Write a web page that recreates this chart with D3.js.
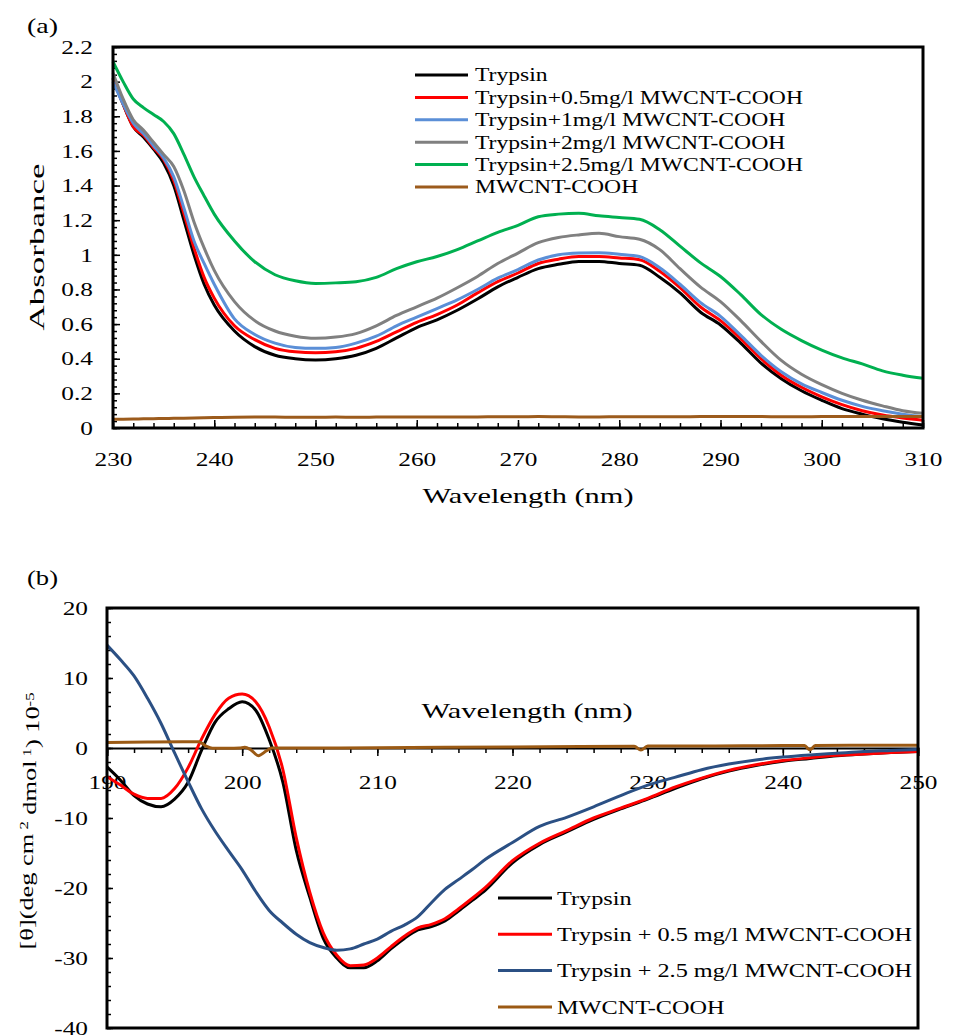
<!DOCTYPE html>
<html>
<head>
<meta charset="utf-8">
<script src="https://cdn.jsdelivr.net/npm/d3@7"></script>
<style>
  body { margin: 0; background: #fff; }
  text { font-family: "Liberation Serif", "DejaVu Serif", serif; fill: #000; }
</style>
</head>
<body>
<div id="chart"></div>
<script>
// ---------- panel (a) : UV absorbance ----------
var wlA = [230, 231, 232, 233, 234, 235, 236, 237, 238, 239, 240, 242, 244, 246, 248, 250, 252, 254, 256, 258, 260,
           262, 264, 266, 268, 270, 272, 274, 276, 278, 280, 282, 284, 286, 288, 290, 292, 294, 296, 298, 300,
           302, 304, 306, 308, 310];
var absTrypsin = [2.02, 1.87, 1.74, 1.68, 1.61, 1.53, 1.40, 1.20, 1.00, 0.83, 0.71, 0.56, 0.47, 0.42, 0.40, 0.393, 0.40, 0.42, 0.46, 0.52, 0.58,
                  0.625, 0.68, 0.745, 0.815, 0.87, 0.92, 0.945, 0.962, 0.962, 0.95, 0.94, 0.87, 0.78, 0.67, 0.595, 0.49, 0.375, 0.285, 0.215, 0.16,
                  0.112, 0.08, 0.053, 0.033, 0.017];
var abs05 = [2.02, 1.87, 1.74, 1.69, 1.62, 1.55, 1.43, 1.24, 1.04, 0.87, 0.75, 0.59, 0.51, 0.46, 0.44, 0.435, 0.44, 0.46, 0.50, 0.555, 0.61,
             0.655, 0.71, 0.78, 0.845, 0.895, 0.95, 0.975, 0.99, 0.99, 0.982, 0.972, 0.905, 0.81, 0.70, 0.62, 0.515, 0.40, 0.305, 0.235, 0.18,
             0.135, 0.10, 0.075, 0.058, 0.045];
var abs1 = [2.00, 1.87, 1.76, 1.70, 1.63, 1.56, 1.45, 1.27, 1.08, 0.95, 0.83, 0.63, 0.54, 0.49, 0.465, 0.46, 0.465, 0.49, 0.53, 0.59, 0.64,
            0.69, 0.74, 0.80, 0.865, 0.915, 0.97, 1.0, 1.01, 1.012, 1.003, 0.99, 0.925, 0.83, 0.725, 0.645, 0.535, 0.42, 0.325, 0.255, 0.205,
            0.16, 0.125, 0.10, 0.08, 0.065];
var abs2 = [2.05, 1.90, 1.78, 1.72, 1.65, 1.58, 1.51, 1.37, 1.19, 1.04, 0.91, 0.73, 0.62, 0.56, 0.53, 0.518, 0.525, 0.545, 0.59, 0.65, 0.70,
            0.75, 0.81, 0.875, 0.95, 1.01, 1.07, 1.10, 1.115, 1.124, 1.105, 1.09, 1.03, 0.92, 0.815, 0.73, 0.62, 0.50, 0.39, 0.31, 0.25,
            0.20, 0.16, 0.128, 0.10, 0.085];
var abs25 = [2.115, 2.00, 1.90, 1.85, 1.81, 1.77, 1.70, 1.58, 1.45, 1.34, 1.235, 1.08, 0.96, 0.885, 0.85, 0.835, 0.838, 0.845, 0.87, 0.92, 0.96,
             0.99, 1.03, 1.08, 1.13, 1.17, 1.22, 1.235, 1.24, 1.225, 1.215, 1.205, 1.145, 1.05, 0.955, 0.875, 0.77, 0.655, 0.57, 0.505, 0.45,
             0.405, 0.37, 0.33, 0.305, 0.287];
var absCnt = [0.050, 0.051, 0.052, 0.053, 0.054, 0.055, 0.056, 0.057, 0.058, 0.059, 0.060, 0.062, 0.063, 0.063, 0.062, 0.062, 0.063, 0.062, 0.063, 0.064, 0.064,
              0.064, 0.064, 0.064, 0.065, 0.065, 0.066, 0.065, 0.064, 0.064, 0.065, 0.065, 0.065, 0.065, 0.066, 0.066, 0.066, 0.066, 0.065, 0.065, 0.066,
              0.066, 0.066, 0.066, 0.066, 0.066];
var namesA = ["Trypsin", "Trypsin+0.5mg/l MWCNT-COOH", "Trypsin+1mg/l MWCNT-COOH", "Trypsin+2mg/l MWCNT-COOH",
              "Trypsin+2.5mg/l MWCNT-COOH", "MWCNT-COOH"];
var colorsA = ["#000000", "#ff0000", "#5b8fd7", "#808080", "#00b050", "#9c5b1c"];
var xTicksA = [230, 240, 250, 260, 270, 280, 290, 300, 310];
var yTicksA = [0, 0.2, 0.4, 0.6, 0.8, 1, 1.2, 1.4, 1.6, 1.8, 2, 2.2];

// ---------- panel (b) : CD spectra ----------
var wlB = [190, 191, 192, 193, 194, 195, 196, 197, 198, 199, 200, 201, 202, 203, 204, 205, 206, 207, 208, 209, 210,
           211, 212, 213, 214, 215, 216, 217, 218, 220, 222, 224, 226, 228, 230, 232, 234, 236, 238, 240, 242,
           244, 246, 248, 250];
var cdTrypsin = [-2.7, -4.6, -6.8, -8.0, -8.4, -7.3, -4.9, -0.3, 3.7, 5.6, 6.6, 5.4, 1.2, -4.8, -14.6, -21.3, -27.2, -30.0, -31.4, -31.4, -30.4,
                 -28.7, -27.2, -26.0, -25.5, -24.7, -23.3, -21.8, -20.3, -16.4, -13.8, -12.0, -10.2, -8.7, -7.3, -5.8, -4.4, -3.3, -2.5, -1.9, -1.5,
                 -1.1, -0.85, -0.65, -0.5];
var cd05 = [-4.1, -5.3, -6.6, -7.2, -7.2, -5.8, -2.8, 1.3, 4.8, 7.1, 7.7, 6.6, 3.0, -3.0, -12.8, -20.6, -26.4, -29.6, -31.1, -31.0, -30.0,
            -28.4, -26.9, -25.7, -25.2, -24.4, -23.0, -21.5, -19.9, -16.1, -13.6, -11.8, -10.0, -8.6, -7.2, -5.6, -4.3, -3.2, -2.4, -1.8, -1.4,
            -1.05, -0.85, -0.65, -0.5];
var cd25 = [14.7, 12.6, 10.3, 7.1, 3.5, -0.7, -4.8, -8.7, -11.9, -14.7, -17.4, -20.5, -23.2, -25.0, -26.6, -27.8, -28.5, -28.9, -28.7, -28.0, -27.3,
            -26.2, -25.3, -24.1, -22.1, -20.2, -18.8, -17.4, -15.9, -13.5, -11.2, -9.9, -8.4, -6.8, -5.3, -4.2, -3.1, -2.3, -1.7, -1.3, -1.0,
            -0.75, -0.5, -0.35, -0.2];
var wlCnt = [190, 193, 196, 196.8, 197.3, 197.8, 199, 199.8, 200.2, 200.6, 201.2, 201.8, 202.2, 205, 210, 215, 220, 225,
             229, 229.5, 230, 235, 240, 241.6, 242, 242.4, 245, 250];
var cdCnt = [0.8, 0.85, 0.9, 0.9, 0.3, -0.05, -0.05, 0.0, 0.1, -0.2, -1.1, -0.4, 0.0, 0.0, 0.05, 0.1, 0.15, 0.2,
             0.25, -0.3, 0.3, 0.3, 0.35, 0.35, -0.25, 0.35, 0.4, 0.4];
var namesB = ["Trypsin", "Trypsin + 0.5 mg/l MWCNT-COOH", "Trypsin + 2.5 mg/l MWCNT-COOH", "MWCNT-COOH"];
var colorsB = ["#000000", "#ff0000", "#2b5084", "#9b5a14"];
var xTicksB = [190, 200, 210, 220, 230, 240, 250];
var yTicksB = [-40, -30, -20, -10, 0, 10, 20];

// stretch text horizontally so it spans the same width as in the picture
function widen(sel, f) {
    sel.each(function () {
        var L = this.getComputedTextLength();
        this.setAttribute("textLength", L * f);
        this.setAttribute("lengthAdjust", "spacingAndGlyphs");
    });
}
function fitTo(sel, w) {
    var f = w / sel.node().getComputedTextLength();
    widen(sel, f);
    return f;
}

var svg = d3.select("#chart")
    .append("svg")
    .attr("width", 953)
    .attr("height", 1035);

// ================= panel (a) =================
var xA = d3.scaleLinear().domain([230, 310]).range([113, 923]);
var yA = d3.scaleLinear().domain([0, 2.2]).range([428, 47]);

var tA = svg.append("text").attr("x", 27).attr("y", 33).style("font-size", "21px").text("(a)");
fitTo(tA, 31);

// minor ticks
svg.append("g")
    .attr("transform", "translate(0,428)")
    .call(d3.axisBottom(xA).tickValues(d3.range(230, 311, 2)).tickSize(-5).tickFormat(""))
    .call(g => g.select(".domain").remove());
svg.append("g")
    .attr("transform", "translate(113,0)")
    .call(d3.axisLeft(yA).tickValues(d3.range(0, 2.2001, 0.04)).tickSize(-4).tickFormat(""))
    .call(g => g.select(".domain").remove());

// major ticks + labels
var axA = svg.append("g")
    .attr("transform", "translate(0,428)")
    .call(d3.axisBottom(xA).tickValues(xTicksA).tickSize(-8).tickPadding(24).tickFormat(d => d));
var ayA = svg.append("g")
    .attr("transform", "translate(113,0)")
    .call(d3.axisLeft(yA).tickValues(yTicksA).tickSize(-7).tickPadding(20).tickFormat(d => +d.toFixed(1)));
[axA, ayA].forEach(function (g) {
    g.select(".domain").remove();
    g.selectAll("line").attr("stroke", "#000");
    g.selectAll("text").style("font-size", "19.5px").style("font-family", "Liberation Serif, DejaVu Serif, serif");
});
svg.selectAll(".tick line").attr("stroke-width", 1.5);
var tickF = 38 / axA.select(".tick text").node().getComputedTextLength();
widen(axA.selectAll("text"), tickF);
widen(ayA.selectAll("text"), tickF);

var lineA = d3.line().curve(d3.curveMonotoneX)
    .x(function (d) { return xA(d[0]); })
    .y(function (d) { return yA(d[1]); });

[absTrypsin, abs05, abs1, abs2, abs25, absCnt].forEach(function (vals, i) {
    svg.append("path")
        .datum(wlA.map(function (w, j) { return [w, vals[j]]; }))
        .attr("d", lineA)
        .attr("fill", "none")
        .attr("stroke", colorsA[i])
        .attr("stroke-width", 3);
});

svg.append("rect")
    .attr("x", 113).attr("y", 47).attr("width", 810).attr("height", 381)
    .attr("fill", "none").attr("stroke", "#000").attr("stroke-width", 3);

var absTitle = svg.append("text")
    .attr("transform", "translate(44,247) rotate(-90)")
    .attr("text-anchor", "middle")
    .style("font-size", "21px")
    .text("Absorbance");
fitTo(absTitle, 167);
var wlTitleA = svg.append("text")
    .attr("x", 528).attr("y", 503)
    .attr("text-anchor", "middle")
    .style("font-size", "21px")
    .text("Wavelength (nm)");
fitTo(wlTitleA, 211);

// legend (a)
var legA = svg.append("g");
namesA.forEach(function (name, i) {
    var yy = 75 + i * 22.4;
    legA.append("line").attr("x1", 415).attr("x2", 468).attr("y1", yy).attr("y2", yy)
        .attr("stroke", colorsA[i]).attr("stroke-width", 3);
    legA.append("text").attr("x", 475).attr("y", yy).attr("dy", "0.36em")
        .style("font-size", "18px").text(name);
});
var legFA = 328 / legA.selectAll("text").nodes()[1].getComputedTextLength();
widen(legA.selectAll("text"), legFA);

// ================= panel (b) =================
var xB = d3.scaleLinear().domain([190, 250]).range([107, 918]);
var yB = d3.scaleLinear().domain([-40, 20]).range([1028, 608]);

var tB = svg.append("text").attr("x", 27).attr("y", 585).style("font-size", "21px").text("(b)");
fitTo(tB, 31);

svg.append("g")
    .attr("transform", "translate(0," + yB(0) + ")")
    .call(d3.axisBottom(xB).tickValues(d3.range(190, 251, 2)).tickSize(5).tickFormat(""))
    .call(g => g.select(".domain").remove());
svg.append("g")
    .attr("transform", "translate(107,0)")
    .call(d3.axisLeft(yB).tickValues(d3.range(-40, 21, 2)).tickSize(-4).tickFormat(""))
    .call(g => g.select(".domain").remove());

var axB = svg.append("g")
    .attr("transform", "translate(0," + yB(0) + ")")
    .call(d3.axisBottom(xB).tickValues(xTicksB).tickSize(8).tickPadding(19).tickFormat(d => d));
axB.select(".domain").attr("stroke", "#000").attr("stroke-width", 2);
var ayB = svg.append("g")
    .attr("transform", "translate(107,0)")
    .call(d3.axisLeft(yB).tickValues(yTicksB).tickSize(-6).tickPadding(19).tickFormat(d => String(d)));
ayB.select(".domain").remove();
[axB, ayB].forEach(function (g) {
    g.selectAll("line").attr("stroke", "#000");
    g.selectAll("text").style("font-size", "19.5px").style("font-family", "Liberation Serif, DejaVu Serif, serif");
});
svg.selectAll(".tick line").attr("stroke-width", 1.5);
widen(axB.selectAll("text"), tickF);
widen(ayB.selectAll("text"), tickF);

var wlTitleB = svg.append("text")
    .attr("x", 527).attr("y", 718)
    .attr("text-anchor", "middle")
    .style("font-size", "21px")
    .text("Wavelength (nm)");
fitTo(wlTitleB, 211);

var lineB = d3.line().curve(d3.curveMonotoneX)
    .x(function (d) { return xB(d[0]); })
    .y(function (d) { return yB(d[1]); });

[cdTrypsin, cd05, cd25].forEach(function (vals, i) {
    svg.append("path")
        .datum(wlB.map(function (w, j) { return [w, vals[j]]; }))
        .attr("d", lineB)
        .attr("fill", "none")
        .attr("stroke", colorsB[i])
        .attr("stroke-width", 3);
});
svg.append("path")
    .datum(wlCnt.map(function (w, j) { return [w, cdCnt[j]]; }))
    .attr("d", lineB)
    .attr("fill", "none")
    .attr("stroke", colorsB[3])
    .attr("stroke-width", 3);

svg.append("rect")
    .attr("x", 107).attr("y", 608).attr("width", 811).attr("height", 420)
    .attr("fill", "none").attr("stroke", "#000").attr("stroke-width", 3);

// y title with superscripts
var yt = svg.append("text")
    .attr("transform", "translate(33,821) rotate(-90)")
    .attr("text-anchor", "middle")
    .style("font-size", "19px");
yt.append("tspan").text("[θ](deg cm");
yt.append("tspan").attr("dy", "-0.45em").style("font-size", "12px").text(" 2");
yt.append("tspan").attr("dy", "0.45em").text(" dmol");
yt.append("tspan").attr("dy", "-0.45em").style("font-size", "12px").text(" 1");
yt.append("tspan").attr("dy", "0.45em").text(") 10");
yt.append("tspan").attr("dy", "-0.45em").style("font-size", "12px").text("-5");
fitTo(yt, 257);

// legend (b)
var legB = svg.append("g");
namesB.forEach(function (name, i) {
    var yy = 898 + i * 36.3;
    legB.append("line").attr("x1", 498).attr("x2", 552).attr("y1", yy).attr("y2", yy)
        .attr("stroke", colorsB[i]).attr("stroke-width", 3);
    legB.append("text").attr("x", 557).attr("y", yy).attr("dy", "0.36em")
        .style("font-size", "19px").text(name);
});
var legFB = 355 / legB.selectAll("text").nodes()[1].getComputedTextLength();
widen(legB.selectAll("text"), legFB);
</script>
</body>
</html>
